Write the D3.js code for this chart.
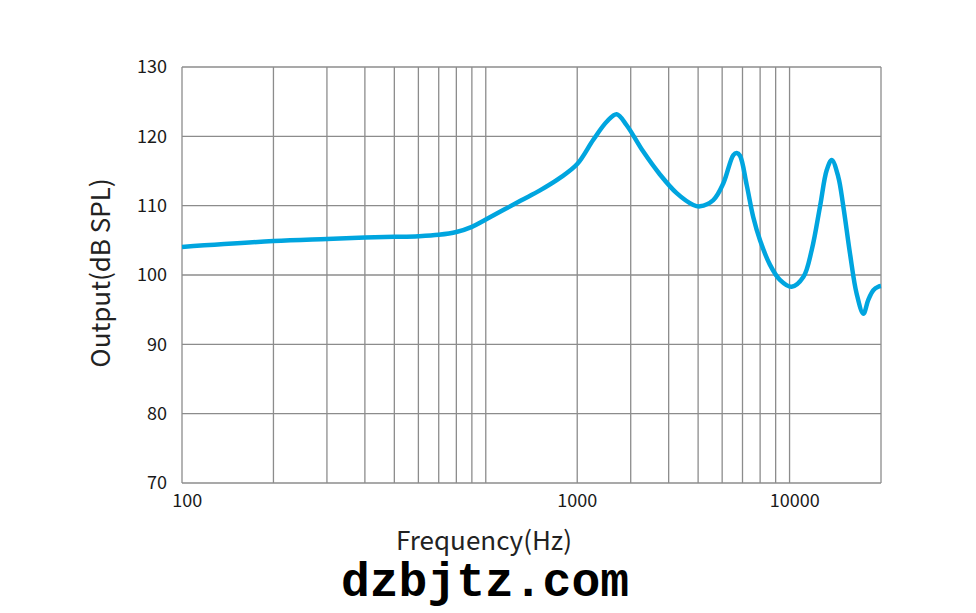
<!DOCTYPE html>
<html>
<head>
<meta charset="utf-8">
<script src="https://cdn.jsdelivr.net/npm/d3@7"></script>
<style>
  body { margin: 0; background: #fff; }
  svg { display: block; }
</style>
</head>
<body>
<div id="chart"></div>
<script>
// frequency response (Hz, dB SPL)
const freqs = [100, 200, 300, 400, 500, 600, 700, 800, 900, 1000,
  1300, 1508, 1755, 2000, 2259, 2500, 2697, 2909, 3299, 3744,
  4250, 4822, 5070, 5610, 6050, 6530, 6700, 6870, 7225, 7600,
  7995, 8615, 9295, 10160, 11100, 11830, 12600, 13250, 13770, 14460,
  15030, 15810, 16630, 17500, 18160, 18870, 19590, 20000]
const output = [104.05, 104.9, 105.2, 105.4, 105.5, 105.6, 105.8, 106.2, 106.95, 108.0,
  110.7, 112.2, 114.0, 116.0, 119.5, 122.1, 123.2, 121.6, 117.8, 114.5,
  111.8, 110.1, 109.9, 110.8, 113.2, 117.3, 117.6, 117.2, 113.0, 108.3,
  105.0, 101.5, 99.3, 98.3, 99.7, 103.6, 109.9, 115.1, 116.6, 114.2,
  109.9, 103.1, 97.3, 94.4, 96.4, 97.8, 98.3, 98.4]

const yTicks = [70, 80, 90, 100, 110, 120, 130]
// vertical grid lines (Hz)
const xGrid = [100, 200, 300, 400, 500, 600, 700, 800, 900,
  1000, 2000, 3000, 4000, 5000, 6000, 7000, 8000, 9000, 10000, 20000]
// x tick labels and the frequency each one sits at in the picture
const xTickLabels = ["100", "1000", "10000"]
const xTickAt = [104, 2000, 10400]

const width = 976
const height = 613
const margin = { left: 182, right: 95, top: 67, bottom: 130 }
const font = "'Noto Sans CJK SC', 'Noto Sans', sans-serif"

const svg = d3.select("#chart").append("svg")
  .attr("width", width)
  .attr("height", height)

const xScale = d3.scaleLog().domain([100, 20000]).range([margin.left, width - margin.right])
const yScale = d3.scaleLinear().domain([70, 130]).range([height - margin.bottom, margin.top])

// grid
svg.append("g")
  .selectAll("line")
  .data(xGrid)
  .enter()
  .append("line")
  .attr("x1", d => xScale(d))
  .attr("x2", d => xScale(d))
  .attr("y1", yScale(130))
  .attr("y2", yScale(70))
  .attr("stroke", "#8c8c8c")
  .attr("stroke-width", 1.3)

svg.append("g")
  .selectAll("line")
  .data(yTicks)
  .enter()
  .append("line")
  .attr("x1", xScale(100))
  .attr("x2", xScale(20000))
  .attr("y1", d => yScale(d))
  .attr("y2", d => yScale(d))
  .attr("stroke", "#8c8c8c")
  .attr("stroke-width", 1.3)

// y tick labels
svg.append("g")
  .selectAll("text")
  .data(yTicks)
  .enter()
  .append("text")
  .attr("x", margin.left - 15)
  .attr("y", d => yScale(d))
  .attr("dy", "0.35em")
  .attr("text-anchor", "end")
  .attr("font-family", font)
  .attr("font-size", "18px")
  .attr("fill", "#1a1a1a")
  .text(d => d)

// x tick labels
svg.append("g")
  .selectAll("text")
  .data(xTickLabels)
  .enter()
  .append("text")
  .attr("x", (d, i) => xScale(xTickAt[i]))
  .attr("y", 507)
  .attr("text-anchor", "middle")
  .attr("font-family", font)
  .attr("font-size", "18px")
  .attr("fill", "#1a1a1a")
  .text(d => d)

// response curve
const line = d3.line()
  .x((d, i) => xScale(freqs[i]))
  .y(d => yScale(d))
  .curve(d3.curveCatmullRom.alpha(0.5))

svg.append("path")
  .datum(output)
  .attr("d", line)
  .attr("fill", "none")
  .attr("stroke", "#00a5df")
  .attr("stroke-width", 4.5)
  .attr("stroke-linejoin", "round")

// axis titles
svg.append("text")
  .attr("x", 484)
  .attr("y", 550)
  .attr("text-anchor", "middle")
  .attr("font-family", font)
  .attr("font-size", "26px")
  .attr("fill", "#222")
  .text("Frequency(Hz)")

svg.append("text")
  .attr("transform", "translate(110, 273) rotate(-90)")
  .attr("text-anchor", "middle")
  .attr("font-family", font)
  .attr("font-size", "26px")
  .attr("fill", "#222")
  .text("Output(dB SPL)")

// watermark
svg.append("text")
  .attr("x", 485)
  .attr("y", 596)
  .attr("text-anchor", "middle")
  .attr("font-family", "Liberation Mono")
  .attr("font-weight", "bold")
  .attr("font-size", "48px")
  .attr("fill", "#000")
  .text("dzbjtz.com")
</script>
</body>
</html>
